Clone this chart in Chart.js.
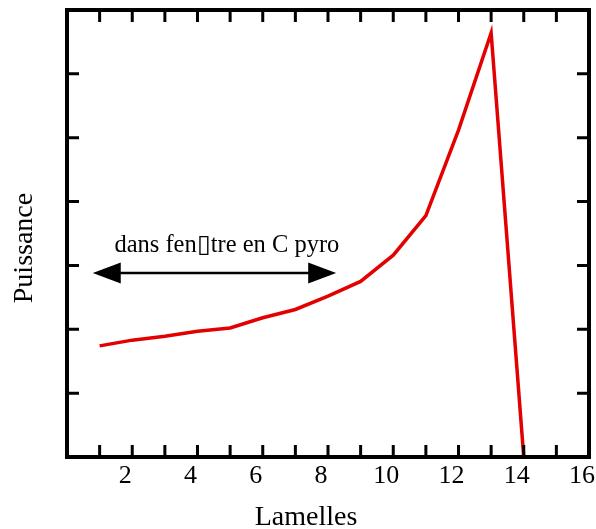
<!DOCTYPE html>
<html>
<head>
<meta charset="utf-8">
<script src="https://cdn.jsdelivr.net/npm/chart.js@4.4.1/dist/chart.umd.min.js"></script>
<style>
  html, body { margin: 0; padding: 0; background: #fff; }
</style>
</head>
<body>
<canvas id="myChart" width="596" height="529"></canvas>
<script>
// data
const lamelles = [1, 2, 3, 4, 5, 6, 7, 8, 9, 10, 11, 12, 13, 14];
const puissance = [1.74, 1.83, 1.89, 1.97, 2.02, 2.18, 2.31, 2.52, 2.75, 3.16, 3.78, 5.12, 6.64, 0];
const xTickLabels = [2, 4, 6, 8, 10, 12, 14, 16];
const yTickValues = [1, 2, 3, 4, 5, 6];

// annotation (data units)
const noteText = 'dans fen\u25AFtre en C pyro';
const notePos = [4.9, 3.21];
const arrowFrom = [0.79, 2.88];
const arrowTo = [8.25, 2.88];

const serif = "'Liberation Serif', 'Times New Roman', serif";

const framePlugin = {
  id: 'frame',
  afterDraw(chart) {
    const ctx = chart.ctx;
    const a = chart.chartArea;
    const xs = chart.scales.x, ys = chart.scales.y;
    ctx.save();
    ctx.strokeStyle = '#000';

    // inward tick marks
    ctx.lineWidth = 3;
    ctx.beginPath();
    for (let v = xs.min + 1; v < xs.max; v++) {
      const px = xs.getPixelForValue(v);
      ctx.moveTo(px, a.bottom); ctx.lineTo(px, a.bottom - 12);
      ctx.moveTo(px, a.top); ctx.lineTo(px, a.top + 12);
    }
    yTickValues.forEach(v => {
      const py = ys.getPixelForValue(v);
      ctx.moveTo(a.left, py); ctx.lineTo(a.left + 12, py);
      ctx.moveTo(a.right, py); ctx.lineTo(a.right - 12, py);
    });
    ctx.stroke();

    // box
    ctx.lineWidth = 4;
    ctx.strokeRect(a.left, a.top, a.right - a.left, a.bottom - a.top);

    // arrow
    const x1 = xs.getPixelForValue(arrowFrom[0]), y1 = ys.getPixelForValue(arrowFrom[1]);
    const x2 = xs.getPixelForValue(arrowTo[0]), y2 = ys.getPixelForValue(arrowTo[1]);
    ctx.lineWidth = 2.5;
    ctx.beginPath();
    ctx.moveTo(x1 + 20, y1); ctx.lineTo(x2 - 20, y2);
    ctx.stroke();
    ctx.fillStyle = '#000';
    ctx.beginPath();
    ctx.moveTo(x1, y1); ctx.lineTo(x1 + 28, y1 - 10.5); ctx.lineTo(x1 + 28, y1 + 10.5);
    ctx.closePath(); ctx.fill();
    ctx.beginPath();
    ctx.moveTo(x2, y2); ctx.lineTo(x2 - 28, y2 - 10.5); ctx.lineTo(x2 - 28, y2 + 10.5);
    ctx.closePath(); ctx.fill();

    // note
    ctx.font = "24.5px " + serif;
    ctx.textAlign = 'center';
    ctx.textBaseline = 'alphabetic';
    ctx.fillText(noteText, xs.getPixelForValue(notePos[0]), ys.getPixelForValue(notePos[1]));

    // axis titles
    ctx.font = "28px " + serif;
    ctx.fillText('Lamelles', 306, 525);
    ctx.translate(32, 248);
    ctx.rotate(-Math.PI / 2);
    ctx.fillText('Puissance', 0, 0);
    ctx.restore();
  }
};

const options = {
  type: 'line',
  data: {
    datasets: [{
      data: lamelles.map((x, i) => ({ x: x, y: puissance[i] })),
      borderColor: 'rgb(228, 0, 0)',
      borderWidth: 3.5,
      pointRadius: 0,
      tension: 0,
      clip: false
    }]
  },
  options: {
    responsive: false,
    animation: false,
    layout: { padding: { top: 10, right: 7, left: 0, bottom: 0 } },
    plugins: {
      legend: { display: false },
      tooltip: { enabled: false }
    },
    scales: {
      x: {
        type: 'linear',
        min: 0,
        max: 16,
        afterFit(scale) {
          scale.height = 72;
          scale.paddingLeft = 0;
          scale.paddingRight = 0;
        },
        grid: { display: false, drawTicks: false },
        border: { display: false },
        ticks: {
          stepSize: 1,
          autoSkip: false,
          maxRotation: 0,
          padding: 4,
          labelOffset: -7,
          color: '#000',
          font: { family: serif, size: 26 },
          callback: v => xTickLabels.includes(v) ? String(v) : ''
        }
      },
      y: {
        min: 0,
        max: 7,
        afterFit(scale) {
          scale.width = 67;
          scale.paddingTop = 0;
          scale.paddingBottom = 0;
        },
        grid: { display: false, drawTicks: false },
        border: { display: false },
        ticks: { display: false }
      }
    }
  },
  plugins: [framePlugin]
};

const ctx = document.getElementById('myChart').getContext('2d');
new Chart(ctx, options);
</script>
</body>
</html>
